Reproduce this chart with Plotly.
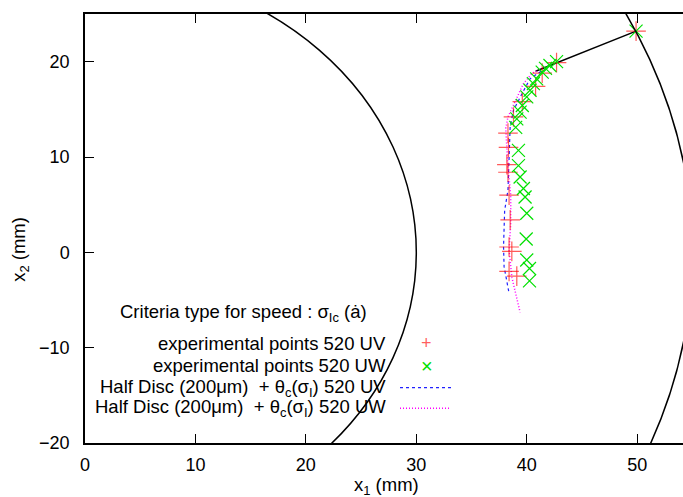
import plotly.graph_objects as go

# ---- data (mm) ----
inner_radius = 30.0
outer_radius = 55.0
notch_x = [40.8, 49.9]
notch_y = [19.0, 23.2]

exp_uv_x = [49.9, 42.7, 41.4, 40.8, 39.6, 38.8, 38.3, 38.35, 38.2, 38.3, 38.4, 38.5, 38.4, 38.65, 38.4, 39.1]
exp_uv_y = [23.2, 19.9, 18.8, 17.4, 15.8, 14.2, 12.5, 11.0, 9.2, 8.4, 6.0, 3.4, 0.56, 0.1, -2.0, -2.5]

exp_uw_x = [49.9, 42.7, 42.1, 41.7, 41.4, 40.9, 40.6, 40.3, 40.0, 39.6, 39.4, 39.1, 39.0,
            39.25, 39.25, 39.4, 39.7, 39.85, 40.0, 39.95, 40.0, 40.25, 40.25]
exp_uw_y = [23.2, 20.0, 19.6, 19.3, 18.9, 18.2, 17.7, 17.0, 16.3, 15.4, 14.7, 14.0, 13.1,
            10.7, 9.1, 7.9, 6.7, 5.8, 4.1, 1.4, -0.8, -1.7, -3.0]

sim_uv_x = [41.3, 40.3, 39.6, 38.8, 38.5, 38.4, 38.3, 38.0, 37.9, 37.95, 38.4]
sim_uv_y = [19.0, 18.2, 16.7, 14.9, 13.2, 9.0, 6.5, 4.4, 0.6, -1.5, -4.3]

sim_uw_x = [40.9, 40.5, 39.7, 39.0, 38.3, 38.1, 38.3, 38.55, 38.55, 38.4, 38.65, 39.4]
sim_uw_y = [19.0, 18.8, 17.7, 16.0, 14.2, 13.0, 9.0, 6.0, 3.0, 0.2, -2.6, -6.3]

x_ticks = [0, 10, 20, 30, 40, 50]
y_ticks = [-20, -10, 0, 10, 20]

legend_title = "Criteria type for speed : σ<sub>Ic</sub> (ȧ)"
legend_labels = [
    "experimental points 520 UV",
    "experimental points 520 UW",
    "Half Disc (200μm)  + θ<sub>c</sub>(σ<sub>I</sub>) 520 UV",
    "Half Disc (200μm)  + θ<sub>c</sub>(σ<sub>I</sub>) 520 UW",
]

FONT = "Liberation Sans, Arial, sans-serif"
FS = 18.5

fig = go.Figure()

# notch line
fig.add_trace(go.Scatter(x=notch_x, y=notch_y, mode="lines",
                         line=dict(color="black", width=1.5), showlegend=False))
fig.add_trace(go.Scatter(x=sim_uv_x, y=sim_uv_y, mode="lines",
                         line=dict(color="#2020ff", width=1.2, dash="3px,3px"), showlegend=False))
fig.add_trace(go.Scatter(x=sim_uw_x, y=sim_uw_y, mode="lines",
                         line=dict(color="#ff00ff", width=1.5, dash="1px,2px"), showlegend=False))
fig.add_trace(go.Scatter(x=exp_uv_x, y=exp_uv_y, mode="markers",
                         marker=dict(symbol="cross-thin", size=14,
                                     line=dict(color="rgba(255,0,0,0.65)", width=1.2)),
                         showlegend=False))
fig.add_trace(go.Scatter(x=exp_uw_x, y=exp_uw_y, mode="markers",
                         marker=dict(symbol="x-thin", size=13,
                                     line=dict(color="#00e000", width=1.2)),
                         showlegend=False))

# specimen boundaries (circles in data coords)
for r in (inner_radius, outer_radius):
    fig.add_shape(type="circle", xref="x", yref="y", x0=-r, x1=r, y0=-r, y1=r,
                  line=dict(color="black", width=1.5), layer="above")

# ---- manual gnuplot-style legend ----
L, R, T, B = 85, 683, 14.4, 443.0
def px(x):
    return (x - L) / (R - L)
def py(y):
    return (B - y) / (B - T)

fig.add_annotation(x=px(243), y=py(313), xref="paper", yref="paper", text=legend_title,
                   showarrow=False, xanchor="center", yanchor="middle",
                   font=dict(family=FONT, size=FS, color="black"))
rows = [343.3, 366.0, 387.7, 408.3]
for lab, yy in zip(legend_labels, rows):
    fig.add_annotation(x=px(388), y=py(yy), xref="paper", yref="paper", text=lab,
                       showarrow=False, xanchor="right", yanchor="middle",
                       font=dict(family=FONT, size=FS, color="black"))
fig.add_annotation(x=px(426.5), y=py(rows[0]), xref="paper", yref="paper", text="+",
                   showarrow=False, xanchor="center", yanchor="middle",
                   font=dict(family=FONT, size=18, color="rgba(255,0,0,0.65)"))
fig.add_annotation(x=px(426.5), y=py(rows[1]), xref="paper", yref="paper", text="×",
                   showarrow=False, xanchor="center", yanchor="middle",
                   font=dict(family=FONT, size=20, color="#00e000"))
fig.add_shape(type="line", xref="paper", yref="paper", x0=px(400), x1=px(451),
              y0=py(rows[2]), y1=py(rows[2]),
              line=dict(color="#2020ff", width=1.2, dash="3px,3px"))
fig.add_shape(type="line", xref="paper", yref="paper", x0=px(400), x1=px(451),
              y0=py(rows[3]), y1=py(rows[3]),
              line=dict(color="#ff00ff", width=1.5, dash="1px,2px"))

# axis titles
fig.add_annotation(x=px(386), y=py(486), xref="paper", yref="paper",
                   text="x<sub>1</sub> (mm)", showarrow=False,
                   xanchor="center", yanchor="middle",
                   font=dict(family=FONT, size=FS, color="black"))
fig.add_annotation(x=px(20), y=py(250), xref="paper", yref="paper",
                   text="x<sub>2</sub> (mm)", showarrow=False, textangle=-90,
                   xanchor="center", yanchor="middle",
                   font=dict(family=FONT, size=FS, color="black"))

fig.update_layout(
    width=683, height=497,
    margin=dict(l=85, r=0, t=14.4, b=54),
    paper_bgcolor="white", plot_bgcolor="white",
    font=dict(family=FONT, size=18, color="black"),
    showlegend=False,
    xaxis=dict(range=[0, 54.15], tickvals=x_ticks, ticks="inside", ticklen=9,
               tickwidth=1.2, tickcolor="black", showline=True, linecolor="black",
               linewidth=1.5, mirror="ticks", showgrid=False, zeroline=False,
               ticklabelstandoff=5),
    yaxis=dict(range=[-20, 25], tickvals=y_ticks, ticks="inside", ticklen=9,
               tickwidth=1.2, tickcolor="black", showline=True, linecolor="black",
               linewidth=1.5, mirror=False, showgrid=False, zeroline=False,
               ticklabelstandoff=10),
)

fig.write_html("out.html",
               config={"displayModeBar": False},
               post_script="document.body.style.margin='0px';document.body.style.overflow='hidden';")
